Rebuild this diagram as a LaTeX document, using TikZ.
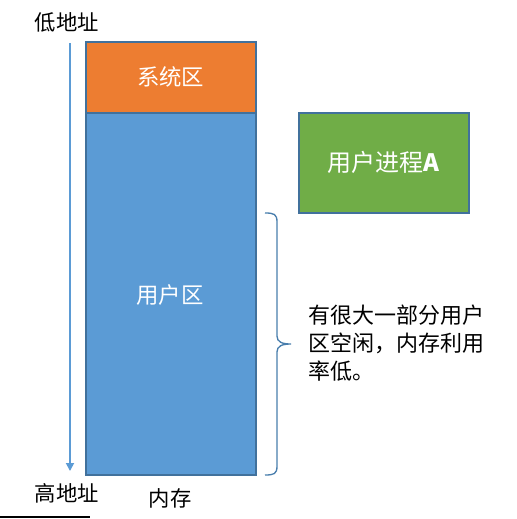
\documentclass[tikz,border=0pt]{standalone}
\usepackage{fontspec}
\setmainfont{Noto Sans CJK SC}
\usetikzlibrary{arrows.meta}
\definecolor{sysor}{HTML}{ED7D31}
\definecolor{userbl}{HTML}{5B9BD5}
\definecolor{procgr}{HTML}{70AD47}
\definecolor{edgebl}{HTML}{41719C}
\begin{document}
\begin{tikzpicture}[x=0.75pt,y=-0.75pt,
  region/.style={draw=edgebl,line width=1.2pt,inner sep=0pt},
  intext/.style={text=white,font=\fontsize{16.8}{20}\selectfont,inner sep=0pt},
  lbl/.style={font=\fontsize{16}{19}\selectfont,text=black,inner sep=0pt}]
\useasboundingbox (0,0) rectangle (517,519);
\fill[white] (0,0) rectangle (517,519);
% memory
\node[region,fill=userbl,minimum width=170*0.75pt,minimum height=362*0.75pt,anchor=north west] (user) at (85,112) {};
\node[region,fill=sysor,minimum width=170*0.75pt,minimum height=71*0.75pt,anchor=north west] (sys) at (85,41) {};
\node[intext] (syst) at (sys.center) {系统区};
\node[intext] (usert) at (170,295) {用户区};
% process A
\node[region,fill=procgr,minimum width=170*0.75pt,minimum height=100*0.75pt,anchor=north west] (proc) at (298,112) {};
\node[intext,font=\fontsize{18}{21}\selectfont] (proct) at (proc.center) {用户进程\textbf{A}};
% address arrow
\coordinate (atop) at (70,43);
\coordinate (abot) at (70,471);
\draw[userbl,line width=1.3pt,-{Triangle[length=6pt,width=6pt]}] (atop) -- (abot);
\node[lbl] (low) at (67,22) {低地址};
\node[lbl] (high) at (67,493) {高地址};
\node[lbl] (mem) at (170,498) {内存};
% brace
\draw[edgebl!70!userbl,line width=1pt] (265,213) .. controls (274,213) and (277,214) .. (277,222)
  -- (277,336) .. controls (277,342) and (282,344) .. (291,344)
  .. controls (282,344) and (277,346) .. (277,352)
  -- (277,466) .. controls (277,474) and (274,475) .. (265,475);
\node[lbl,anchor=north west,align=left,font=\fontsize{16.5}{21}\selectfont] (note) at (308,305) {有很大一部分用户\\区空闲，内存利用\\率低。};
% bottom line
\draw[black,line width=0.8pt] (0,517) -- (90,517);
\end{tikzpicture}
\end{document}
